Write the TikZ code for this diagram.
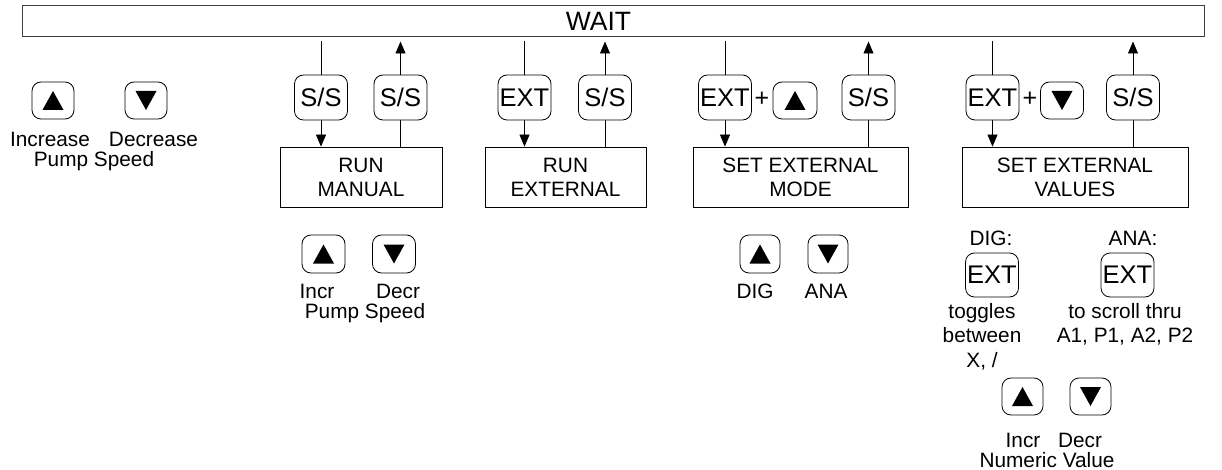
\documentclass[tikz,border=0pt]{standalone}
\usepackage{fontspec}
\setmainfont{Liberation Sans}
\usetikzlibrary{arrows.meta}

\newcommand{\keyfont}{\fontsize{25.5}{28}\selectfont}
\newcommand{\lblfont}{\fontsize{20.8}{21}\selectfont}
\newcommand{\waitfont}{\fontsize{26.5}{28}\selectfont}

\begin{document}
\begin{tikzpicture}[x=1pt,y=-1pt,line width=0.8pt]
\tikzset{
% Keys of the front panel: text keys and arrow keys
key node/.style={draw,rounded corners=9pt,inner sep=0,minimum width=53pt,minimum height=45pt,font=\keyfont},
arrow key/.style={key node,minimum width=43pt,minimum height=37pt},
up key/.style={arrow key,path picture={\fill[sharp corners] ([shift={(-10.5pt,-9.5pt)}]path picture bounding box.center) -- ++(21pt,0pt) -- ++(-10.5pt,19pt) -- cycle;}},
down key/.style={arrow key,path picture={\fill[sharp corners] ([shift={(-10.5pt,9.5pt)}]path picture bounding box.center) -- ++(21pt,0pt) -- ++(-10.5pt,-19pt) -- cycle;}},
% Operating states
state node/.style={draw,inner sep=0,minimum height=60pt,align=center,font=\fontsize{20.8}{24}\selectfont},
lbl/.style={inner sep=0,font=\lblfont},
arr/.style={-{Triangle[width=10pt,length=12pt]}}
}
\useasboundingbox (0,0) rectangle (1222,470);

% The wait state on top
\node[draw=black!75,line width=1pt,inner sep=0,minimum width=1182pt,minimum height=31pt,
  label={[font=\waitfont,xshift=-14.5pt]center:WAIT}] (wait) at (613,21.5) {};

% The other states
\node[state node,minimum width=162pt] (rm) at (361,177) {RUN\\MANUAL};
\node[state node,minimum width=161pt] (re) at (565.5,177) {RUN\\EXTERNAL};
\node[state node,minimum width=215pt] (sm) at (800.5,177) {SET EXTERNAL\\MODE};
\node[state node,minimum width=226pt] (sv) at (1075,177) {SET EXTERNAL\\VALUES};

% Keys between wait and the states
\node[key node] (ss1) at (321,97.5) {S/S};
\node[key node] (ss2) at (400.5,97.5) {S/S};
\node[key node] (ext1) at (524.5,97.5) {EXT};
\node[key node] (ss3) at (605,97.5) {S/S};
\node[key node] (ext2) at (725,97.5) {EXT};
\node[lbl,font=\fontsize{25}{26}\selectfont] (plus1) at (762,99) {+};
\node[up key,minimum width=44pt] (up2) at (795,100.5) {};
\node[key node] (ss4) at (868.5,97.5) {S/S};
\node[key node] (ext3) at (992.5,97.5) {EXT};
\node[lbl,font=\fontsize{25}{26}\selectfont] (plus2) at (1030,99) {+};
\node[down key] (dn3) at (1062,100.5) {};
\node[key node] (ss5) at (1133,97.5) {S/S};

% Transitions
\draw[shorten <=4pt] (ss1.north |- wait.south) -- (ss1.north);
\draw[arr] (ss1.south) -- (ss1.south |- rm.north);
\draw (ss2.south |- rm.north) -- (ss2.south);
\draw[arr,shorten >=4pt] (ss2.north) -- (ss2.north |- wait.south);
\draw[shorten <=4pt] (ext1.north |- wait.south) -- (ext1.north);
\draw[arr] (ext1.south) -- (ext1.south |- re.north);
\draw (ss3.south |- re.north) -- (ss3.south);
\draw[arr,shorten >=4pt] (ss3.north) -- (ss3.north |- wait.south);
\draw[shorten <=4pt] (ext2.north |- wait.south) -- (ext2.north);
\draw[arr] (ext2.south) -- (ext2.south |- sm.north);
\draw (ss4.south |- sm.north) -- (ss4.south);
\draw[arr,shorten >=4pt] (ss4.north) -- (ss4.north |- wait.south);
\draw[shorten <=4pt] (ext3.north |- wait.south) -- (ext3.north);
\draw[arr] (ext3.south) -- (ext3.south |- sv.north);
\draw (ss5.south |- sv.north) -- (ss5.south);
\draw[arr,shorten >=4pt] (ss5.north) -- (ss5.north |- wait.south);

% Speed keys in wait
\node[up key,minimum width=42pt] (inc) at (53,100.5) {};
\node[down key,minimum width=42pt] (dec) at (146,100.5) {};
\node[lbl,anchor=base] (tinc) at (50,147) {Increase};
\node[lbl,anchor=base] (tdec) at (153.5,147) {Decrease};
\node[lbl,anchor=base] (tpump) at (94,167) {Pump Speed};

% Speed keys in run manual
\node[up key,minimum height=38pt] (inc1) at (323.5,254) {};
\node[down key,minimum height=38pt] (dec1) at (394,254) {};
\node[lbl,anchor=base] (tinc1) at (317,298) {Incr};
\node[lbl,anchor=base] (tdec1) at (398,298) {Decr};
\node[lbl,anchor=base] (tpump1) at (365,318) {Pump Speed};

% Mode keys in set external mode
\node[up key,minimum width=40pt,minimum height=38pt] (dig) at (760,254) {};
\node[down key,minimum width=40pt,minimum height=38pt] (ana) at (828,254) {};
\node[lbl,anchor=base] (tdig) at (755,298) {DIG};
\node[lbl,anchor=base] (tana) at (826,298) {ANA};

% Keys in set external values
\node[lbl,anchor=base] (tdig2) at (991,246) {DIG:};
\node[key node,minimum height=44pt] (ext4) at (992,275) {EXT};
\node[lbl,anchor=base] (tana2) at (1133,246) {ANA:};
\node[key node,minimum height=44pt] (ext5) at (1127.5,275) {EXT};
\node[lbl,align=center,anchor=north,font=\fontsize{20.8}{24.5}\selectfont] (ttog) at (982,303) {toggles\\between\\X, /};
\node[lbl,align=center,anchor=north,font=\fontsize{20.8}{24.5}\selectfont] (tscr) at (1125,303) {to scroll thru\\A1, P1, A2, P2};
\node[up key,minimum width=41pt] (inc2) at (1022.5,396.5) {};
\node[down key,minimum width=41pt] (dec2) at (1090.5,396.5) {};
\node[lbl,anchor=base] (tinc2) at (1023,447) {Incr};
\node[lbl,anchor=base] (tdec2) at (1080,447) {Decr};
\node[lbl,anchor=base] (tnum) at (1047,467) {Numeric Value};
\end{tikzpicture}
\end{document}
